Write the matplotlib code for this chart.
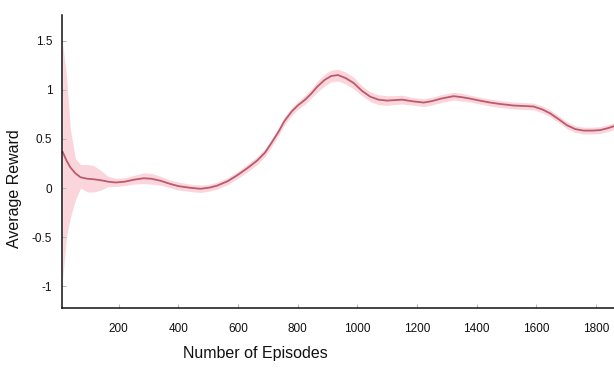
import matplotlib
matplotlib.use('Agg')
import matplotlib.pyplot as plt

# ── Data ─────────────────────────────────────────────────────────────────────
episodes = [12, 25, 38, 55, 72, 95, 116, 140, 165, 190, 220, 250, 284, 310,
            340, 370, 400, 440, 474, 505, 530, 565, 597, 630, 664, 690, 710,
            735, 755, 780, 800, 825, 845, 865, 890, 912, 935, 960, 987, 1015,
            1043, 1070, 1099, 1125, 1150, 1180, 1222, 1250, 1280, 1322, 1350,
            1378, 1410, 1445, 1480, 1523, 1560, 1590, 1620, 1646, 1675, 1702,
            1730, 1758, 1790, 1814, 1840, 1860]
mean_reward = [0.37, 0.28, 0.21, 0.15, 0.11, 0.095, 0.09, 0.08, 0.065, 0.057,
               0.065, 0.085, 0.10, 0.095, 0.075, 0.045, 0.02, 0.003, -0.007,
               0.005, 0.025, 0.07, 0.13, 0.20, 0.28, 0.36, 0.45, 0.57, 0.68,
               0.78, 0.84, 0.90, 0.96, 1.03, 1.10, 1.14, 1.15, 1.12, 1.07,
               0.99, 0.93, 0.90, 0.89, 0.895, 0.90, 0.885, 0.87, 0.885, 0.91,
               0.935, 0.925, 0.91, 0.89, 0.87, 0.855, 0.84, 0.835, 0.83, 0.80,
               0.76, 0.70, 0.64, 0.60, 0.585, 0.585, 0.59, 0.61, 0.63]
band_upper = [1.47, 1.15, 0.60, 0.30, 0.24, 0.24, 0.23, 0.18, 0.12, 0.10,
              0.105, 0.13, 0.155, 0.15, 0.12, 0.085, 0.06, 0.04, 0.03,
              0.04, 0.06, 0.105, 0.165, 0.24, 0.32, 0.40, 0.49, 0.61, 0.72,
              0.82, 0.88, 0.945, 1.005, 1.085, 1.16, 1.20, 1.21, 1.18, 1.13,
              1.04, 0.98, 0.95, 0.94, 0.94, 0.945, 0.925, 0.91, 0.925, 0.95,
              0.975, 0.965, 0.945, 0.925, 0.905, 0.89, 0.875, 0.87, 0.865,
              0.835, 0.795, 0.735, 0.675, 0.635, 0.62, 0.62, 0.625, 0.645, 0.665]
band_lower = [-0.93, -0.50, -0.30, -0.12, 0.00, -0.04, -0.04, -0.02, 0.015,
              0.017, 0.025, 0.04, 0.045, 0.04, 0.03, 0.005, -0.02, -0.035,
              -0.045, -0.03, -0.01, 0.035, 0.095, 0.16, 0.24, 0.32, 0.41,
              0.53, 0.64, 0.74, 0.80, 0.855, 0.915, 0.975, 1.04, 1.08, 1.09,
              1.06, 1.01, 0.94, 0.88, 0.85, 0.84, 0.85, 0.855, 0.845, 0.83,
              0.845, 0.87, 0.895, 0.885, 0.875, 0.855, 0.835, 0.82, 0.805,
              0.80, 0.795, 0.765, 0.725, 0.665, 0.605, 0.565, 0.55, 0.55,
              0.555, 0.575, 0.595]

x_ticks = [200, 400, 600, 800, 1000, 1200, 1400, 1600, 1800]
y_ticks = [-1, -0.5, 0, 0.5, 1, 1.5]
y_tick_labels = ["-1", "-0.5", "0", "0.5", "1", "1.5"]

# ── Style ────────────────────────────────────────────────────────────────────
LINE_COL = "#bb5a6d"
BAND_COL = "#f7bcc6"
plt.rcParams['font.family'] = ['Liberation Sans', 'DejaVu Sans']

fig = plt.figure(figsize=(6.14, 3.68), dpi=100)
fig.patch.set_facecolor("white")
ax = fig.add_axes([0.101, 0.163, 0.899, 0.796])

ax.fill_between(episodes, band_lower, band_upper, color=BAND_COL,
                alpha=0.6, linewidth=0, zorder=1)
ax.plot(episodes, mean_reward, color=LINE_COL, lw=1.3, zorder=2,
        solid_capstyle='round', solid_joinstyle='round')

ax.set_xlim(10, 1860)
ax.set_ylim(-1.22, 1.76)
ax.set_xticks(x_ticks)
ax.set_yticks(y_ticks)
ax.set_yticklabels(y_tick_labels)

for side in ('top', 'right'):
    ax.spines[side].set_visible(False)
for side in ('left', 'bottom'):
    ax.spines[side].set_linewidth(1.1)
    ax.spines[side].set_color("#111111")

ax.tick_params(direction='in', length=3, width=0.8, color="#bbbbbb",
               labelsize=8.5, labelcolor="#111111")
ax.tick_params(axis='x', pad=11)
ax.tick_params(axis='y', pad=7)

ax.set_xlabel("Number of Episodes", fontsize=11.5, color="#111111")
ax.set_ylabel("Average Reward", fontsize=11.5, color="#111111")
ax.xaxis.set_label_coords(0.35, -0.13)
ax.yaxis.set_label_coords(-0.072, 0.406)

fig.savefig("out.png", dpi=100, facecolor="white")
plt.close(fig)
